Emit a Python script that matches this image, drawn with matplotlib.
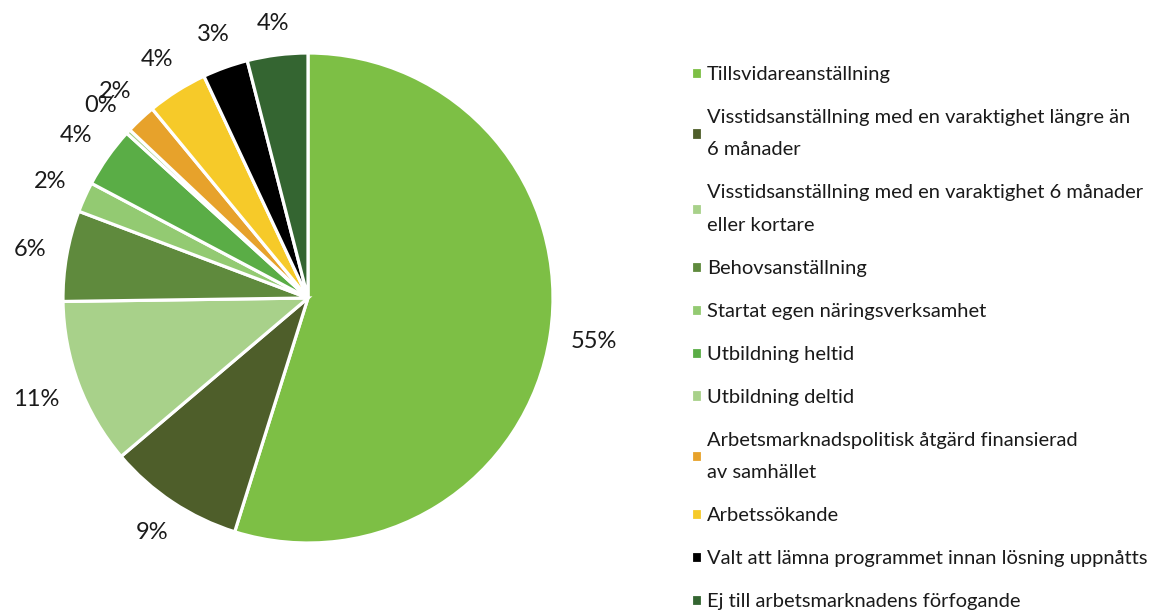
import numpy as np
import matplotlib.pyplot as plt

categories = [
    "Tillsvidareanställning",
    "Visstidsanställning med en varaktighet längre än\n6 månader",
    "Visstidsanställning med en varaktighet 6 månader\neller kortare",
    "Behovsanställning",
    "Startat egen näringsverksamhet",
    "Utbildning heltid",
    "Utbildning deltid",
    "Arbetsmarknadspolitisk åtgärd finansierad\nav samhället",
    "Arbetssökande",
    "Valt att lämna programmet innan lösning uppnåtts",
    "Ej till arbetsmarknadens förfogande",
]
values = [55, 9, 11, 6, 2, 4, 0.3, 2, 4, 3, 4]
pct_labels = ["55%", "9%", "11%", "6%", "2%", "4%", "0%", "2%", "4%", "3%", "4%"]
colors = ["#7DBF45", "#4E5E2A", "#A8D18A", "#5F8A3D", "#93CA72", "#5AAD46",
          "#A8D18A", "#E7A22B", "#F6CA29", "#000000", "#346531"]

plt.rcParams['font.family'] = ['Lato', 'DejaVu Sans']

fig = plt.figure(figsize=(11.55, 6.1), dpi=100)
ax = fig.add_axes([63 / 1155, 67 / 610, 490 / 1155, 490 / 610])

wedges, texts = ax.pie(values, labels=pct_labels, colors=colors, startangle=90,
                       counterclock=False, labeldistance=1.19,
                       wedgeprops=dict(edgecolor="white", linewidth=2.3),
                       textprops=dict(fontsize=17, color="#1a1a1a"))
# place labels at a fixed gap outside the pie edge, like Excel does
for w, t in zip(wedges, texts):
    ang = np.deg2rad((w.theta1 + w.theta2) / 2)
    hw = 0.032 * len(t.get_text())
    hh = 0.042
    r = 1 + 0.08 + abs(np.cos(ang)) * hw + abs(np.sin(ang)) * hh
    t.set_position((r * np.cos(ang), r * np.sin(ang)))
    t.set_horizontalalignment("center")
    t.set_verticalalignment("center")
ax.set_xlim(-1, 1)
ax.set_ylim(-1, 1)
ax.set_aspect("equal")

leg = fig.legend(wedges, categories, loc="upper left", bbox_to_anchor=(691 / 1155, 1 - 66 / 610),
                 frameon=False, fontsize=14.5, handlelength=0.55, handleheight=0.55,
                 handletextpad=0.25, labelspacing=1.29, borderpad=0, borderaxespad=0)
for t in leg.get_texts():
    t.set_linespacing(2.1)
    t.set_color("#1a1a1a")

fig.savefig("out.png", dpi=100)
